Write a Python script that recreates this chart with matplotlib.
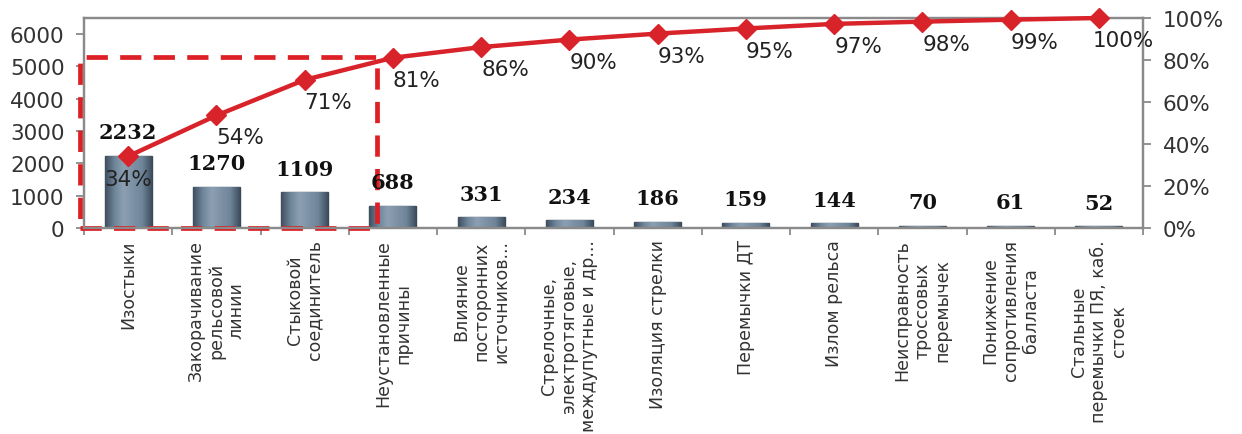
import numpy as np
import matplotlib
matplotlib.use("Agg")
import matplotlib.pyplot as plt
from matplotlib.patches import Rectangle
from matplotlib.colors import LinearSegmentedColormap

plt.rcParams['font.family'] = ['DejaVu Sans']

# Causes of failures and their counts (Pareto order)
categories = [
    "Изостыки",
    "Закорачивание\nрельсовой\nлинии",
    "Стыковой\nсоединитель",
    "Неустановленные\nпричины",
    "Влияние\nпосторонних\nисточников...",
    "Стрелочные,\nэлектротяговые,\nмеждупутные и др...",
    "Изоляция стрелки",
    "Перемычки ДТ",
    "Излом рельса",
    "Неисправность\nтроссовых\nперемычек",
    "Понижение\nсопротивления\nбалласта",
    "Стальные\nперемычки ПЯ, каб.\nстоек",
]
counts = np.array([2232, 1270, 1109, 688, 331, 234, 186, 159, 144, 70, 61, 52])
left_ticks = [0, 1000, 2000, 3000, 4000, 5000, 6000]
right_ticks = [0, 0.2, 0.4, 0.6, 0.8, 1.0]
n_highlight = 4  # leading causes framed by the dashed box

cum_share = np.cumsum(counts) / counts.sum()
x = np.arange(len(counts))

W, H = 1242, 435
fig = plt.figure(figsize=(W / 100, H / 100), dpi=100)
ax = fig.add_axes([84 / W, 1 - 229 / H, (1143 - 84) / W, (229 - 19) / H])

spine_col = '#8a8a8a'
red = '#d8232a'
bar_w = 0.53

bars = ax.bar(x, counts, width=bar_w, color='#71869a', edgecolor='#3c4a58',
              linewidth=1.0, zorder=2)

# bevelled shading on each bar: dark sides, lighter middle
bevel = LinearSegmentedColormap.from_list(
    'bevel', ['#3f4f60', '#6f8599', '#8da0b3', '#7d91a5', '#6f8599', '#3f4f60'])
grad = np.linspace(0, 1, 64).reshape(1, -1)
for b in bars:
    x0, w, h = b.get_x(), b.get_width(), b.get_height()
    im = ax.imshow(grad, extent=[x0, x0 + w, 0, h], aspect='auto', cmap=bevel,
                   zorder=2.5, interpolation='bicubic')
    im.set_clip_path(b)

for xi, v in zip(x, counts):
    ax.annotate(f"{v}", (xi, v), xytext=(0, 17), textcoords='offset points',
                ha='center', va='center', fontsize=15, fontweight='bold',
                family='DejaVu Serif', color='#111111', zorder=6)

ax.set_xlim(-0.5, len(counts) - 0.5)
ax.set_ylim(0, 6500)
ax.set_yticks(left_ticks)
ax.set_yticklabels([str(t) for t in left_ticks], fontsize=15.5, color='#333333')
ax.tick_params(axis='y', length=6, width=1.3, color=spine_col, pad=8)

ax.set_xticks(x)
ax.set_xticklabels(categories, rotation=90, ha='center', va='top',
                   multialignment='center', fontsize=12.5, color='#333333',
                   linespacing=1.15)
ax.tick_params(axis='x', which='major', length=0, pad=8)
ax.set_xticks(np.arange(-0.5, len(counts), 1), minor=True)
ax.tick_params(axis='x', which='minor', length=5, width=1.3, color=spine_col, direction='out')

for s in ax.spines.values():
    s.set_color(spine_col)
    s.set_linewidth(1.6)

# dashed frame around the leading causes
box_top = counts[:n_highlight].sum()
ax.add_patch(Rectangle((-0.55, 0), 2.82 + 0.55, box_top, fill=False,
                       edgecolor='#dd1f26', linewidth=3.4,
                       linestyle=(0, (4.5, 2.6)), clip_on=False, zorder=5))

# cumulative share on the right axis
ax2 = ax.twinx()
ax2.set_ylim(0, 1)
ax2.plot(x, cum_share, color=red, linewidth=3.2, marker='D', markersize=10,
         markeredgecolor=red, markerfacecolor=red, zorder=4, clip_on=False)
for i, (xi, c) in enumerate(zip(x, cum_share)):
    off = (0, -23) if i == 0 else (24, -22)
    ax2.annotate(f"{round(c * 100):.0f}%", (xi, c), xytext=off,
                 textcoords='offset pixels', ha='center', va='center',
                 fontsize=15.5, color='#222222', zorder=7)
ax2.set_yticks(right_ticks)
ax2.set_yticklabels([f"{int(round(t * 100))}%" for t in right_ticks],
                    fontsize=15.5, color='#333333')
ax2.tick_params(axis='y', length=6, width=1.3, color=spine_col, pad=8)
for s in ax2.spines.values():
    s.set_color(spine_col)
    s.set_linewidth(1.6)

fig.savefig("out.png", dpi=100)
